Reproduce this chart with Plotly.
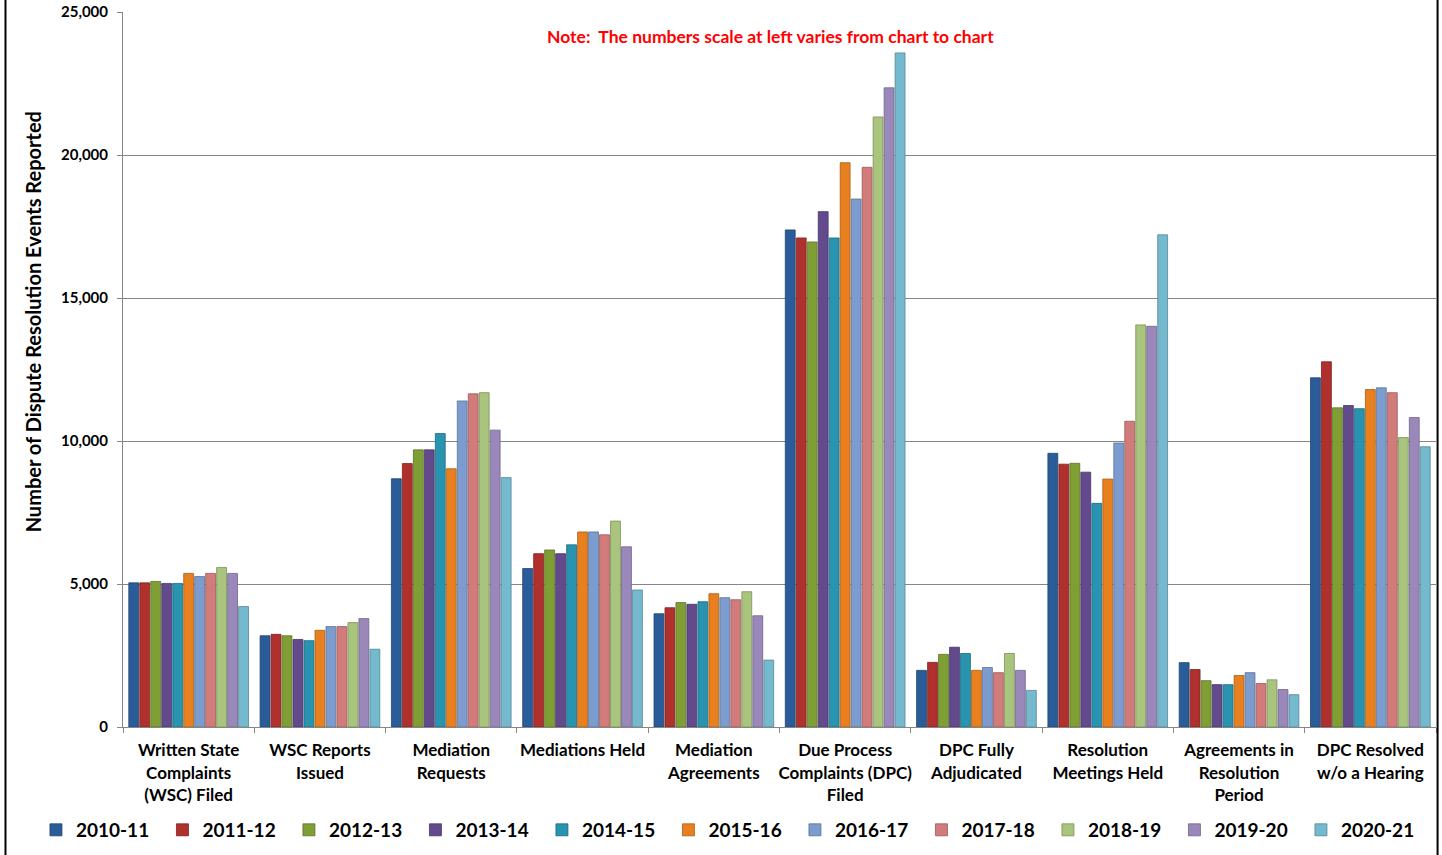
import plotly.graph_objects as go

categories = [
    "Written State<br>Complaints<br>(WSC) Filed",
    "WSC Reports<br>Issued",
    "Mediation<br>Requests",
    "Mediations Held",
    "Mediation<br>Agreements",
    "Due Process<br>Complaints (DPC)<br>Filed",
    "DPC Fully<br>Adjudicated",
    "Resolution<br>Meetings Held",
    "Agreements in<br>Resolution<br>Period",
    "DPC Resolved<br>w/o a Hearing",
]

years = ["2010-11", "2011-12", "2012-13", "2013-14", "2014-15", "2015-16",
         "2016-17", "2017-18", "2018-19", "2019-20", "2020-21"]

# values per year, in category order
v_2010_11 = [5040, 3190, 8680, 5540, 3960, 17380, 1980, 9570, 2250, 12210]
v_2011_12 = [5040, 3240, 9210, 6060, 4170, 17100, 2260, 9190, 2010, 12770]
v_2012_13 = [5090, 3190, 9690, 6190, 4350, 16960, 2540, 9220, 1620, 11160]
v_2013_14 = [5020, 3060, 9690, 6060, 4290, 18020, 2790, 8910, 1480, 11240]
v_2014_15 = [5020, 3020, 10260, 6370, 4380, 17100, 2570, 7820, 1480, 11130]
v_2015_16 = [5370, 3380, 9030, 6820, 4660, 19730, 1980, 8670, 1800, 11800]
v_2016_17 = [5260, 3510, 11400, 6820, 4520, 18460, 2080, 9930, 1900, 11860]
v_2017_18 = [5370, 3510, 11650, 6720, 4450, 19570, 1900, 10690, 1520, 11690]
v_2018_19 = [5580, 3650, 11690, 7200, 4730, 21330, 2570, 14060, 1650, 10120]
v_2019_20 = [5370, 3790, 10380, 6300, 3890, 22350, 1980, 14010, 1310, 10820]
v_2020_21 = [4210, 2720, 8720, 4790, 2340, 23570, 1280, 17210, 1130, 9800]

series = [v_2010_11, v_2011_12, v_2012_13, v_2013_14, v_2014_15, v_2015_16,
          v_2016_17, v_2017_18, v_2018_19, v_2019_20, v_2020_21]

colors = ["#2B5C9A", "#B0302D", "#7F9F35", "#624A8C", "#2894B0", "#E8801F",
          "#7C9CCF", "#D17C7A", "#A9C47D", "#9A88BB", "#75B9CF"]
edges = ["#1F4471", "#7E2220", "#5C7326", "#463566", "#1C6B80", "#A95D16",
         "#5A7296", "#985A58", "#7B8F5B", "#706388", "#558696"]

fig = go.Figure()
for name, vals, c, e in zip(years, series, colors, edges):
    fig.add_trace(go.Bar(
        x=categories, y=vals, name=name,
        marker=dict(color=c, line=dict(color=e, width=0.8)),
    ))

FONT = "Lato, 'Open Sans', sans-serif"

fig.update_layout(
    width=1442, height=855,
    margin=dict(l=123, r=6, t=12, b=128, autoexpand=False),
    paper_bgcolor="white", plot_bgcolor="white",
    barmode="group", bargap=0.08, bargroupgap=0.1,
    font=dict(family=FONT, color="black"),
    showlegend=True,
    legend=dict(
        orientation="h", xref="paper", yref="paper",
        x=-0.0663, xanchor="left", y=-0.144, yanchor="middle",
        bgcolor="rgba(0,0,0,0)",
        font=dict(size=19, family=FONT, color="black", weight="bold"),
        entrywidth=81.5, entrywidthmode="pixels",
        itemwidth=30, traceorder="normal",
    ),
    xaxis=dict(
        type="category", showline=True, linecolor="#868686", linewidth=1,
        ticks="outside", tickson="boundaries", ticklen=5, tickcolor="#868686",
        tickangle=0, automargin=False, ticklabelstandoff=8,
        tickfont=dict(size=17, family=FONT, color="black", weight="bold"),
        showgrid=False,
    ),
    yaxis=dict(
        range=[0, 25000], dtick=5000, tickformat=",",
        showline=True, linecolor="#868686", linewidth=1,
        ticks="outside", ticklen=5, tickcolor="#868686", automargin=False,
        ticklabelstandoff=6,
        showgrid=True, gridcolor="#868686", gridwidth=1,
        tickfont=dict(size=15, family=FONT, color="black", weight="bold"),
        zeroline=False,
    ),
    annotations=[
        dict(text="Note:  The numbers scale at left varies from chart to chart",
             xref="paper", yref="paper", x=0.4935, y=0.966,
             xanchor="center", yanchor="middle", showarrow=False,
             font=dict(size=17.5, family=FONT, color="#FF0000", weight="bold")),
        dict(text="Number of Dispute Resolution Events Reported",
             xref="paper", yref="paper", x=-0.0685, y=0.566,
             xanchor="center", yanchor="middle", showarrow=False, textangle=-90,
             font=dict(size=20, family=FONT, color="black", weight="bold")),
    ],
    shapes=[
        dict(type="line", xref="paper", yref="paper",
             x0=-0.0895, x1=-0.0895, y0=-0.25, y1=1.05,
             line=dict(color="black", width=2)),
        dict(type="line", xref="paper", yref="paper",
             x0=1.0012, x1=1.0012, y0=-0.25, y1=1.05,
             line=dict(color="black", width=2)),
    ],
)

fig.write_html("out.html", config={"displayModeBar": False},
               post_script="document.body.style.margin='0px';")
